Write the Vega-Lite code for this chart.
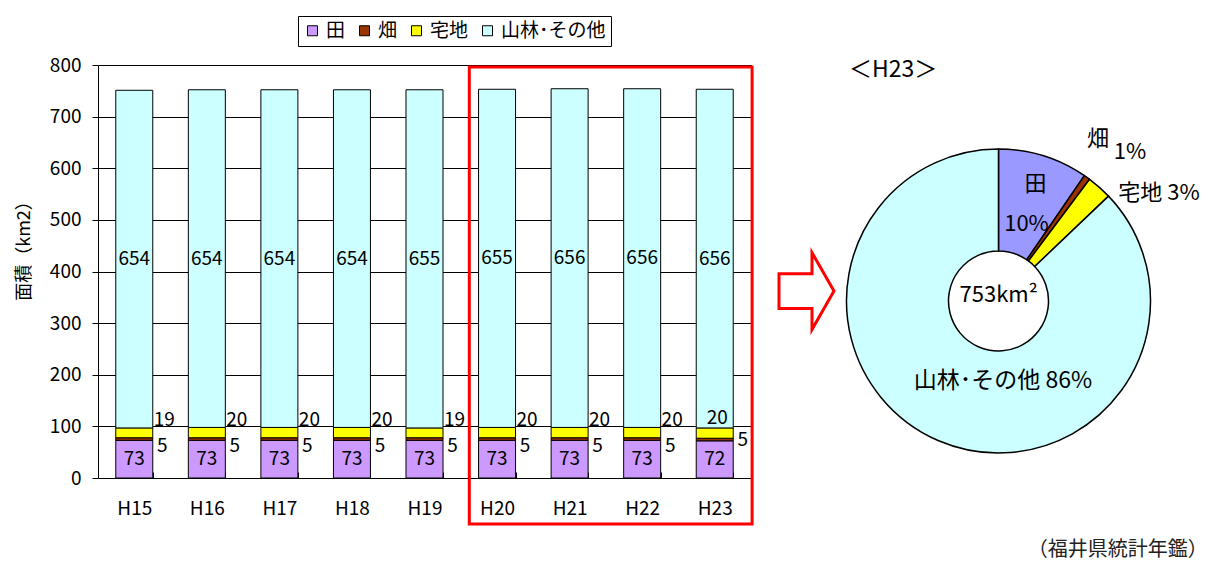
{
  "$schema": "https://vega.github.io/schema/vega-lite/v6.json",
  "background": "white",
  "padding": {"left": 14, "top": 15, "right": 10, "bottom": 4},
  "config": {
    "font": "Noto Sans CJK JP",
    "view": {"stroke": "black", "strokeWidth": 1},
    "text": {"color": "black"}
  },
  "datasets": {
    "land": [
      {"year": "H15", "cat": "田", "value": 73, "rank": 1},
      {"year": "H15", "cat": "畑", "value": 5, "rank": 2},
      {"year": "H15", "cat": "宅地", "value": 19, "rank": 3},
      {"year": "H15", "cat": "山林･その他", "value": 654, "rank": 4},
      {"year": "H16", "cat": "田", "value": 73, "rank": 1},
      {"year": "H16", "cat": "畑", "value": 5, "rank": 2},
      {"year": "H16", "cat": "宅地", "value": 20, "rank": 3},
      {"year": "H16", "cat": "山林･その他", "value": 654, "rank": 4},
      {"year": "H17", "cat": "田", "value": 73, "rank": 1},
      {"year": "H17", "cat": "畑", "value": 5, "rank": 2},
      {"year": "H17", "cat": "宅地", "value": 20, "rank": 3},
      {"year": "H17", "cat": "山林･その他", "value": 654, "rank": 4},
      {"year": "H18", "cat": "田", "value": 73, "rank": 1},
      {"year": "H18", "cat": "畑", "value": 5, "rank": 2},
      {"year": "H18", "cat": "宅地", "value": 20, "rank": 3},
      {"year": "H18", "cat": "山林･その他", "value": 654, "rank": 4},
      {"year": "H19", "cat": "田", "value": 73, "rank": 1},
      {"year": "H19", "cat": "畑", "value": 5, "rank": 2},
      {"year": "H19", "cat": "宅地", "value": 19, "rank": 3},
      {"year": "H19", "cat": "山林･その他", "value": 655, "rank": 4},
      {"year": "H20", "cat": "田", "value": 73, "rank": 1},
      {"year": "H20", "cat": "畑", "value": 5, "rank": 2},
      {"year": "H20", "cat": "宅地", "value": 20, "rank": 3},
      {"year": "H20", "cat": "山林･その他", "value": 655, "rank": 4},
      {"year": "H21", "cat": "田", "value": 73, "rank": 1},
      {"year": "H21", "cat": "畑", "value": 5, "rank": 2},
      {"year": "H21", "cat": "宅地", "value": 20, "rank": 3},
      {"year": "H21", "cat": "山林･その他", "value": 656, "rank": 4},
      {"year": "H22", "cat": "田", "value": 73, "rank": 1},
      {"year": "H22", "cat": "畑", "value": 5, "rank": 2},
      {"year": "H22", "cat": "宅地", "value": 20, "rank": 3},
      {"year": "H22", "cat": "山林･その他", "value": 656, "rank": 4},
      {"year": "H23", "cat": "田", "value": 72, "rank": 1},
      {"year": "H23", "cat": "畑", "value": 5, "rank": 2},
      {"year": "H23", "cat": "宅地", "value": 20, "rank": 3},
      {"year": "H23", "cat": "山林･その他", "value": 656, "rank": 4}
    ]
  },
  "title": {
    "text": "（福井県統計年鑑）",
    "orient": "bottom",
    "anchor": "end",
    "fontSize": 20,
    "fontWeight": "normal",
    "color": "#222222",
    "offset": 3,
    "dx": 8
  },
  "hconcat": [
    {
      "width": 653,
      "height": 413,
      "layer": [
        {
          "data": {"name": "land"},
          "mark": {"type": "bar", "stroke": "black", "strokeWidth": 1},
          "encoding": {
            "x": {
              "field": "year", "type": "nominal", "title": null,
              "scale": {"paddingInner": 0.49, "paddingOuter": 0.245},
              "axis": {"title": null, "labelAngle": 0, "labelFontSize": 19, "labelColor": "black", "labelPadding": 27,
                       "ticks": true, "tickBand": "extent", "tickSize": -6, "tickColor": "black",
                       "domain": false, "grid": false}
            },
            "y": {
              "field": "value", "type": "quantitative", "stack": "zero",
              "scale": {"domain": [0, 800], "nice": false},
              "axis": {"title": "面積（km2）", "values": [0, 100, 200, 300, 400, 500, 600, 700, 800], "grid": true, "gridColor": "black",
                       "tickColor": "black", "tickSize": 6, "labelFontSize": 19, "labelColor": "black",
                       "labelPadding": 11, "domain": false, "titleFontSize": 18, "titleFontWeight": "normal",
                       "titleColor": "black", "titleX": -74, "titleY": 181, "titleBaseline": "middle", "titleAngle": 270}
            },
            "color": {
              "field": "cat", "type": "nominal",
              "sort": ["田", "畑", "宅地", "山林･その他"],
              "scale": {"domain": ["田", "畑", "宅地", "山林･その他"], "range": ["#CC99FF", "#993300", "#FFFF00", "#CCFFFF"]},
              "legend": {"orient": "none", "legendX": 200, "legendY": -49, "direction": "horizontal", "title": null,
                         "strokeColor": "black", "padding": 5, "symbolType": "square", "symbolSize": 100,
                         "symbolStrokeColor": "black", "symbolStrokeWidth": 1, "symbolOpacity": 1,
                         "labelFontSize": 19, "labelColor": "black", "labelOffset": 4, "columnPadding": 9,
                         "fillColor": "white"}
            },
            "order": {"field": "rank", "type": "quantitative"}
          }
        },
        {
          "data": {"name": "land"},
          "mark": {"type": "text", "fontSize": 19, "baseline": "middle"},
          "encoding": {
            "x": {"field": "year", "type": "nominal"},
            "y": {"field": "value", "type": "quantitative", "stack": "zero", "bandPosition": 0.5},
            "detail": {"field": "cat"},
            "order": {"field": "rank", "type": "quantitative"},
            "text": {"condition": {"test": "datum.cat === '田' || datum.cat === '山林･その他'", "field": "value", "type": "quantitative"}, "value": ""}
          }
        },
        {
          "data": {"name": "land"},
          "mark": {"type": "text", "fontSize": 19, "baseline": "middle", "dx": 28, "dy": 7},
          "encoding": {
            "x": {"field": "year", "type": "nominal"},
            "y": {"field": "value", "type": "quantitative", "stack": "zero", "bandPosition": 0.5},
            "detail": {"field": "cat"},
            "order": {"field": "rank", "type": "quantitative"},
            "text": {"condition": {"test": "datum.cat === '畑' && datum.year !== 'H23'", "field": "value", "type": "quantitative"}, "value": ""}
          }
        },
        {
          "data": {"name": "land"},
          "mark": {"type": "text", "fontSize": 19, "baseline": "middle", "dx": 28, "dy": 0},
          "encoding": {
            "x": {"field": "year", "type": "nominal"},
            "y": {"field": "value", "type": "quantitative", "stack": "zero", "bandPosition": 0.5},
            "detail": {"field": "cat"},
            "order": {"field": "rank", "type": "quantitative"},
            "text": {"condition": {"test": "datum.cat === '畑' && datum.year === 'H23'", "field": "value", "type": "quantitative"}, "value": ""}
          }
        },
        {
          "data": {"name": "land"},
          "mark": {"type": "text", "fontSize": 19, "baseline": "middle", "dx": 30, "dy": -12.6},
          "encoding": {
            "x": {"field": "year", "type": "nominal"},
            "y": {"field": "value", "type": "quantitative", "stack": "zero", "bandPosition": 0.5},
            "detail": {"field": "cat"},
            "order": {"field": "rank", "type": "quantitative"},
            "text": {"condition": {"test": "datum.cat === '宅地' && datum.year !== 'H23'", "field": "value", "type": "quantitative"}, "value": ""}
          }
        },
        {
          "data": {"name": "land"},
          "mark": {"type": "text", "fontSize": 19, "baseline": "middle", "dx": 2.5, "dy": -14.6},
          "encoding": {
            "x": {"field": "year", "type": "nominal"},
            "y": {"field": "value", "type": "quantitative", "stack": "zero", "bandPosition": 0.5},
            "detail": {"field": "cat"},
            "order": {"field": "rank", "type": "quantitative"},
            "text": {"condition": {"test": "datum.cat === '宅地' && datum.year === 'H23'", "field": "value", "type": "quantitative"}, "value": ""}
          }
        },
        {
          "data": {"values": [{}]},
          "mark": {"type": "rect", "fillOpacity": 0, "stroke": "#FF0000", "strokeWidth": 3},
          "encoding": {
            "x": {"datum": "H20", "bandPosition": -0.25},
            "x2": {"datum": "H23", "bandPosition": 1.51},
            "y": {"datum": 796},
            "y2": {"datum": -89}
          }
        },
        {
          "data": {"values": [{}]},
          "mark": {"type": "point", "shape": "M-0.714,-0.45L0.143,-0.45L0.143,-1L0.714,0L0.143,1L0.143,0.45L-0.714,0.45Z",
                   "size": 5929, "filled": true, "fill": "white", "stroke": "#FF0000", "strokeWidth": 3, "opacity": 1},
          "encoding": {
            "x": {"datum": "H23", "bandPosition": 2.98},
            "y": {"datum": 362}
          }
        }
      ]
    },
    {
      "width": 315,
      "height": 472,
      "view": {"stroke": null},
      "title": {"text": "＜H23＞", "anchor": "start", "frame": "group", "fontSize": 23, "fontWeight": "normal",
                "color": "black", "offset": -28, "dx": 8, "baseline": "middle"},
      "layer": [
        {
          "data": {"name": "land"},
          "transform": [{"filter": "datum.year === 'H23'"}],
          "mark": {"type": "arc", "outerRadius": 152, "innerRadius": 50, "stroke": "black", "strokeWidth": 1.5},
          "encoding": {
            "theta": {"field": "value", "type": "quantitative", "stack": true},
            "fill": {"field": "cat", "type": "nominal",
                     "scale": {"domain": ["田", "畑", "宅地", "山林･その他"], "range": ["#9999FF", "#993300", "#FFFF00", "#CCFFFF"]},
                     "legend": null},
            "order": {"field": "rank", "type": "quantitative"}
          }
        },
        {
          "data": {"values": [{}]},
          "mark": {"type": "text", "fontSize": 22, "baseline": "middle", "align": "center"},
          "encoding": {"theta": {"datum": 36.6}, "radius": {"value": 122.7}, "text": {"value": "田"}}
        },
        {
          "data": {"values": [{}]},
          "mark": {"type": "text", "fontSize": 22, "baseline": "middle", "align": "center"},
          "encoding": {"theta": {"datum": 41.6}, "radius": {"value": 82.4}, "text": {"value": "10%"}}
        },
        {
          "data": {"values": [{}]},
          "mark": {"type": "text", "fontSize": 22, "baseline": "middle", "align": "center"},
          "encoding": {"theta": {"datum": 65.9}, "radius": {"value": 190.5}, "text": {"value": "畑"}}
        },
        {
          "data": {"values": [{}]},
          "mark": {"type": "text", "fontSize": 22, "baseline": "middle", "align": "center"},
          "encoding": {"theta": {"datum": 86.6}, "radius": {"value": 198.7}, "text": {"value": "1%"}}
        },
        {
          "data": {"values": [{}]},
          "mark": {"type": "text", "fontSize": 22, "baseline": "middle", "align": "center"},
          "encoding": {"theta": {"datum": 117.3}, "radius": {"value": 193.5}, "text": {"value": "宅地 3%"}}
        },
        {
          "data": {"values": [{}]},
          "mark": {"type": "text", "fontSize": 23, "baseline": "middle", "align": "center"},
          "encoding": {"theta": {"datum": 369.8}, "radius": {"value": 80.1}, "text": {"value": "山林･その他 86%"}}
        },
        {
          "data": {"values": [{}]},
          "mark": {"type": "text", "fontSize": 22, "baseline": "middle", "align": "center"},
          "encoding": {"theta": {"datum": 3}, "radius": {"value": 6}, "text": {"value": "753km²"}}
        }
      ]
    }
  ],
  "spacing": 0
}
